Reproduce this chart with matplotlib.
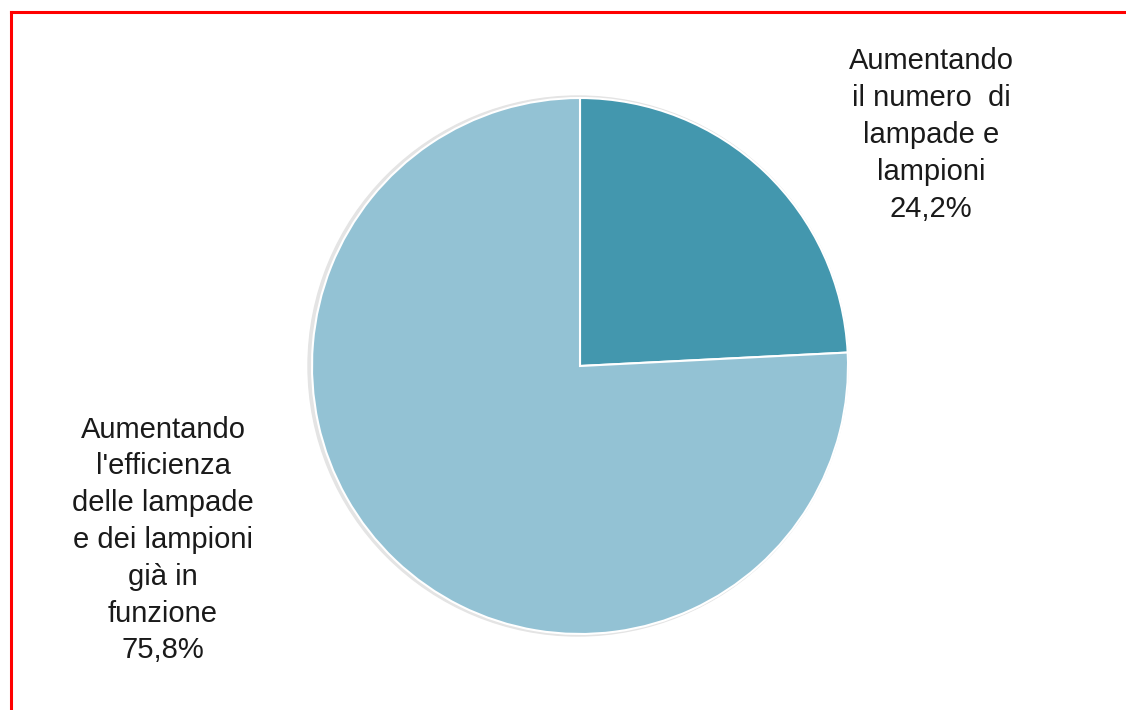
import matplotlib.pyplot as plt
from matplotlib.lines import Line2D

categories = ["Aumentando\nil numero  di\nlampade e\nlampioni",
              "Aumentando\nl'efficienza\ndelle lampade\ne dei lampioni\ngià in\nfunzione"]
values = [24.2, 75.8]
colors = ['#4397ae', '#93c2d4']
# label anchor points in pixels (x, y from top)
label_pos = [(931, 135), (163, 540)]

W, H = 1126, 710
fig = plt.figure(figsize=(W / 100, H / 100), dpi=100, facecolor='w')
ax = fig.add_axes([0, 0, 1, 1])

cx, cy, r = 580, H - 366, 268

# soft shadow behind the pie
shadow = plt.Circle((cx - 2, cy), r + 2, color='#e4e4e4', zorder=0)
ax.add_patch(shadow)

wedges, _ = ax.pie(values, colors=colors, startangle=90, counterclock=False,
                   center=(cx, cy), radius=r, frame=True,
                   wedgeprops=dict(edgecolor='white', linewidth=1.5))
ax.set_xlim(0, W)
ax.set_ylim(0, H)
ax.set_aspect('equal')
ax.axis('off')

for lab, val, (x, y) in zip(categories, values, label_pos):
    txt = lab + '\n' + f"{val:.1f}%".replace('.', ',')
    ax.text(x, H - y, txt, ha='center', va='center', fontsize=21,
            family='Liberation Sans', color='#1a1a1a', linespacing=1.4)

# red frame
fig.add_artist(Line2D([10.5 / W, 1], [1 - 11.5 / H, 1 - 11.5 / H],
                      transform=fig.transFigure, color='#ff0000', lw=2.2))
fig.add_artist(Line2D([10.5 / W, 10.5 / W], [0, 1 - 11.5 / H],
                      transform=fig.transFigure, color='#ff0000', lw=2.2))

fig.savefig('out.png', dpi=100, facecolor='w')
